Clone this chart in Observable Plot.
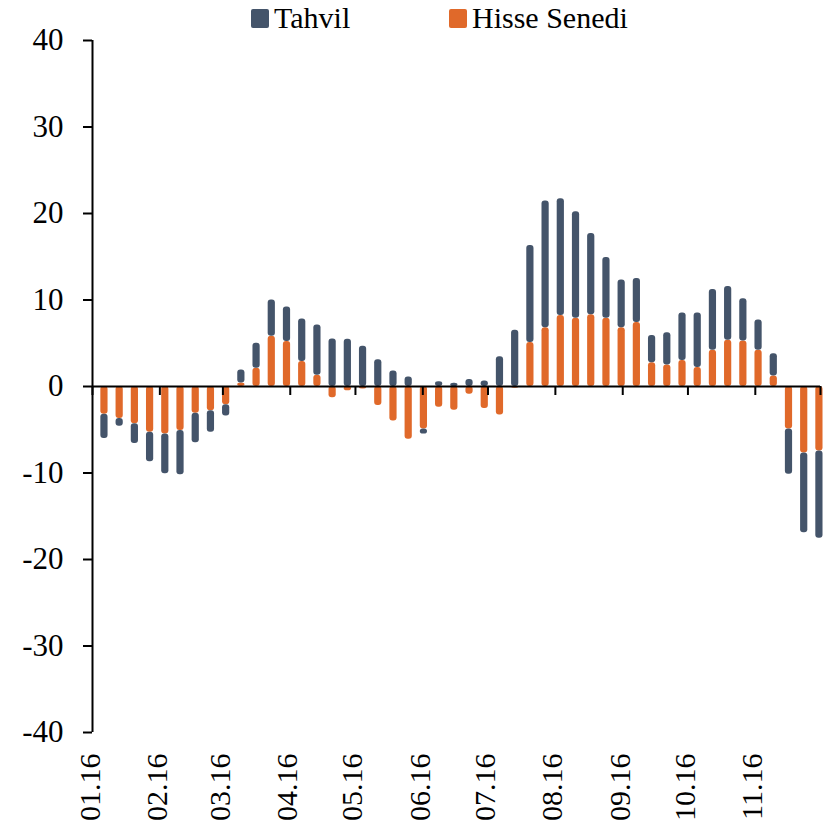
<!DOCTYPE html>
<html>
<head>
<meta charset="utf-8">
<script src="https://cdn.jsdelivr.net/npm/d3@7"></script>
<script src="https://cdn.jsdelivr.net/npm/@observablehq/plot@0.6"></script>
<style>
  body { margin: 0; background: #fff; font-family: 'Liberation Serif', serif; }
  #wrap { position: relative; width: 833px; height: 825px; }
  .leg { position: absolute; top: 3px; height: 30px; line-height: 30px; display: flex; align-items: center; font-size: 30px; color: #000; white-space: nowrap; }
  .sw { display: inline-block; width: 18px; height: 19px; margin-right: 5px; border-radius: 2px; }
</style>
</head>
<body>
<div id="wrap">
  <div id="chart"></div>
  <div class="leg" style="left:251px"><span class="sw" style="background:#44546A"></span>Tahvil</div>
  <div class="leg" style="left:449px"><span class="sw" style="background:#E0692A"></span>Hisse Senedi</div>
</div>
<script>
// Weekly observation dates (2016)
const dates = [
  "2016-01-06","2016-01-13","2016-01-20","2016-01-27",
  "2016-02-03","2016-02-10","2016-02-17","2016-02-24",
  "2016-03-02","2016-03-09","2016-03-16","2016-03-23","2016-03-30",
  "2016-04-06","2016-04-13","2016-04-20","2016-04-27",
  "2016-05-04","2016-05-11","2016-05-18","2016-05-25",
  "2016-06-01","2016-06-08","2016-06-15","2016-06-22","2016-06-29",
  "2016-07-06","2016-07-13","2016-07-20","2016-07-27",
  "2016-08-03","2016-08-10","2016-08-17","2016-08-24","2016-08-31",
  "2016-09-07","2016-09-14","2016-09-21","2016-09-28",
  "2016-10-05","2016-10-12","2016-10-19","2016-10-26",
  "2016-11-02","2016-11-09","2016-11-16","2016-11-23","2016-11-30"
];

// Hisse Senedi (equity)
const hisse = [
  -3.2, -3.7, -4.3, -5.3, -5.5, -5.1, -3.1, -2.8, -2.1, 0.4,
  2.1, 5.8, 5.2, 2.9, 1.3, -1.3, -0.5, -0.3, -2.2, -4.0,
  -6.1, -4.9, -2.4, -2.75, -0.9, -2.55, -3.3, -0.2, 5.1, 6.8,
  8.2, 7.9, 8.3, 7.9, 6.8, 7.4, 2.75, 2.5, 3.0, 2.2,
  4.2, 5.35, 5.25, 4.2, 1.2, -4.9, -7.7, -7.45
];

// Tahvil (bond)
const tahvil = [
  -2.8, -0.9, -2.3, -3.4, -4.6, -5.1, -3.4, -2.5, -1.3, 1.5,
  2.9, 4.2, 4.0, 4.9, 5.8, 5.5, 5.45, 4.65, 3.1, 1.8,
  1.1, -0.6, 0.55, 0.37, 0.8, 0.64, 3.45, 6.5, 11.2, 14.65,
  13.5, 12.3, 9.4, 7.0, 5.5, 5.1, 3.15, 3.7, 5.5, 6.3,
  7.0, 6.2, 4.9, 3.5, 2.6, -5.25, -9.2, -10.1
];

// Month tick marks and labels
const monthTickDates = ["2016-01-01","2016-02-01","2016-03-01","2016-04-01","2016-05-01","2016-06-01",
  "2016-07-01","2016-08-01","2016-09-01","2016-10-01","2016-11-01","2016-12-01"];
const monthLabels = ["01.16","02.16","03.16","04.16","05.16","06.16","07.16","08.16","09.16","10.16","11.16"];
const yTicks = [-40, -30, -20, -10, 0, 10, 20, 30, 40];
const xDomain = ["2016-01-01", "2016-12-01"];

const seriesNames = ["Hisse Senedi", "Tahvil"];
const seriesColors = ["#E0692A", "#44546A"];

const parse = d3.utcParse("%Y-%m-%d");
const rows = [];
dates.forEach((d, i) => rows.push({date: parse(d), series: "Hisse Senedi", value: hisse[i]}));
dates.forEach((d, i) => rows.push({date: parse(d), series: "Tahvil", value: tahvil[i]}));

const monthTicks = monthTickDates.map(parse);
const labelRows = monthLabels.map((l, i) => ({date: monthTicks[i], label: l}));

const chart = Plot.plot({
  width: 833,
  height: 825,
  marginLeft: 92,
  marginRight: 13,
  marginTop: 40,
  marginBottom: 93,
  style: {fontFamily: "'Liberation Serif', serif", fontSize: "30px", color: "#000", background: "#fff", overflow: "visible"},
  x: {type: "utc", domain: xDomain.map(parse), axis: null},
  y: {domain: [-40, 40], label: null},
  color: {domain: seriesNames, range: seriesColors},
  marks: [
    Plot.rectY(rows, {x: "date", interval: d3.utcWeek, y: "value", fill: "series", insetLeft: 4, insetRight: 4, rx: 3}),
    Plot.ruleY([0], {stroke: "#000", strokeWidth: 2}),
    Plot.ruleX(monthTicks, {x: d => d, y1: 0, y2: 0, insetBottom: -9, stroke: "#000", strokeWidth: 2}),
    Plot.ruleX([parse(xDomain[0])], {x: d => d, stroke: "#000", strokeWidth: 2}),
    Plot.axisY({ticks: yTicks, tickSize: 9, tickPadding: 20, strokeWidth: 2, fontSize: 31, label: null, tickFormat: d => String(d)}),
    Plot.text(labelRows, {x: "date", text: "label", frameAnchor: "bottom", rotate: -90, textAnchor: "end", dy: 21, dx: 7, fontSize: 30, fill: "#000"})
  ]
});
document.getElementById("chart").appendChild(chart);
</script>
</body>
</html>
